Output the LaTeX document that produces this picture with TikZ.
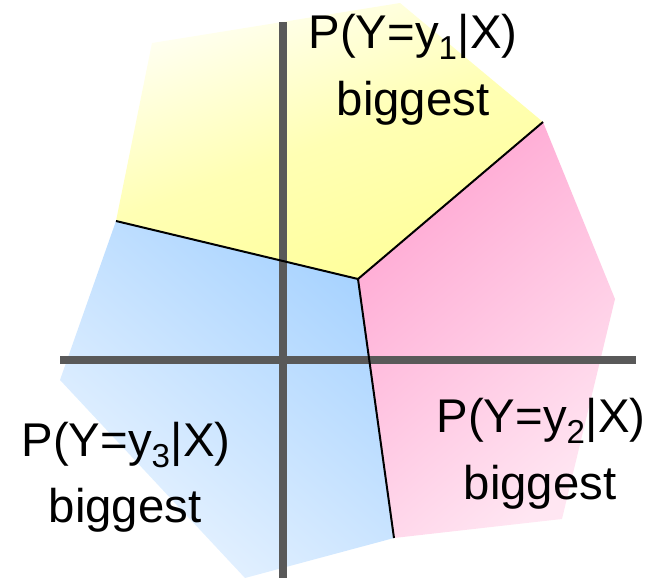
\documentclass[tikz,border=0pt]{standalone}
\usepackage{fontspec}
\setmainfont{Liberation Sans}
\usepackage{xcolor}
\definecolor{axisgray}{HTML}{595959}
\definecolor{yellowlight}{HTML}{FFFFF2}
\definecolor{yellowdark}{HTML}{FFFF99}
\definecolor{pinklight}{HTML}{FFE6F2}
\definecolor{pinkdark}{HTML}{FFA6D2}
\definecolor{bluelight}{HTML}{EAF4FF}
\definecolor{bluedark}{HTML}{A8D3FF}
\usepackage{tikz}

\begin{document}
\begin{tikzpicture}[
  x=0.75pt, y=-0.75pt,
  border/.style={draw=black, line width=1.5pt, line join=round},
  axis/.style={draw=axisgray, line width=5.6pt},
  lbl/.style={anchor=base, inner sep=0pt, font=\fontsize{35.5}{42}\selectfont},
]
\useasboundingbox (0,0) rectangle (654,578);

% corner points of the three regions
\coordinate (ctr) at (358,279);
\coordinate (tl)  at (152,43);
\coordinate (top) at (400,3);
\coordinate (tr)  at (543,122);
\coordinate (rt)  at (615,299);
\coordinate (rb)  at (562,519);
\coordinate (bm)  at (394,538);
\coordinate (bl)  at (245,578);
\coordinate (lf)  at (60,380);
\coordinate (lt)  at (116,221);

% regions
\shade[top color=yellowlight, bottom color=yellowdark, middle color=yellowdark!70!yellowlight, shading angle=20]
  (lt) -- (tl) -- (top) -- (tr) -- (ctr) -- cycle;
\shade[top color=pinkdark, bottom color=pinklight, shading angle=40]
  (ctr) -- (tr) -- (rt) -- (rb) -- (bm) -- cycle;
\shade[top color=bluedark, bottom color=bluelight, shading angle=-40]
  (lt) -- (ctr) -- (bm) -- (bl) -- (lf) -- cycle;

% axes
\coordinate (xl) at (60,360);
\coordinate (xr) at (636,360);
\coordinate (yt) at (283,22);
\coordinate (yb) at (283,578);
\draw[axis] (xl) -- (xr);
\draw[axis] (yt) -- (yb);

% decision boundaries
\draw[border] (lt) -- (ctr);
\draw[border] (tr) -- (ctr);
\draw[border] (bm) -- (ctr);

% labels
\node[lbl] (p1)  at (413,48)  {P(Y=y\textsubscript{1}|X)};
\node[lbl] (p1b) at (413,115) {biggest};
\node[lbl] (p2)  at (541,432) {P(Y=y\textsubscript{2}|X)};
\node[lbl] (p2b) at (540,499) {biggest};
\node[lbl] (p3)  at (126,456) {P(Y=y\textsubscript{3}|X)};
\node[lbl] (p3b) at (125,522) {biggest};

\end{tikzpicture}
\end{document}
